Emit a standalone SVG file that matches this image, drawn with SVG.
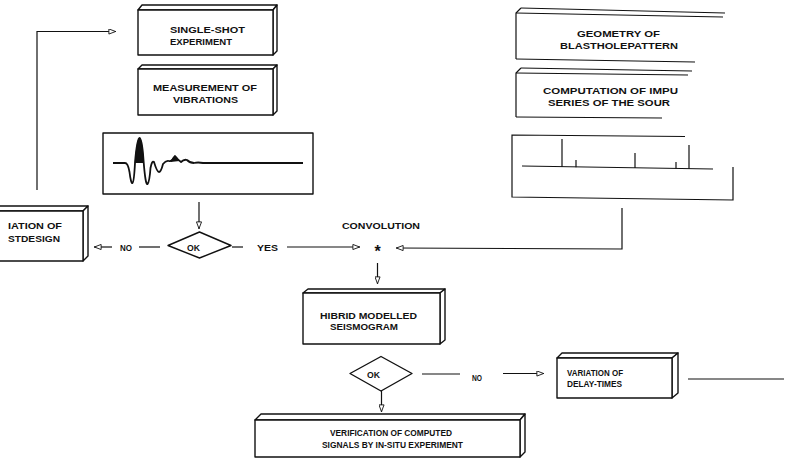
<svg xmlns="http://www.w3.org/2000/svg" width="792" height="471" viewBox="0 0 792 471">
  <style>
    .face { fill: #fff; stroke: #111; stroke-width: 1.4; stroke-linejoin: round; }
    .ln { fill: none; stroke: #111; stroke-width: 1.2; }
    .thin { fill: none; stroke: #111; stroke-width: 1.1; }
    .t { font-family: "Liberation Sans", Arial, Helvetica, sans-serif; font-weight: bold; font-size: 9.5px; fill: #111; }
    .star { font-family: "Liberation Sans", Arial, Helvetica, sans-serif; font-weight: bold; font-size: 16px; fill: #111; }
    .wave { fill: none; stroke: #111; stroke-width: 1.8; stroke-linejoin: round; }
  </style>
  <defs>
    <marker id="arr" viewBox="0 0 10 8" refX="10" refY="4" markerWidth="9" markerHeight="6" markerUnits="userSpaceOnUse" orient="auto">
      <path d="M0.5,0.6 L9.5,4 L0.5,7.4 Z" fill="#fff" stroke="#111" stroke-width="1.2"/>
    </marker>
  </defs>
  <rect width="792" height="471" fill="#fff"/>

  <!-- connectors -->
  <g id="connectors">
    <polyline class="ln" points="37,190 37,31.5 116,31.5" marker-end="url(#arr)"/>
    <line class="ln" x1="199" y1="202" x2="199" y2="229" marker-end="url(#arr)"/>
    <line class="ln" x1="160" y1="247" x2="139" y2="247"/>
    <line class="ln" x1="112" y1="247" x2="94" y2="247" marker-end="url(#arr)"/>
    <line class="ln" x1="232" y1="247" x2="243" y2="247"/>
    <line class="ln" x1="287" y1="247" x2="360" y2="247" marker-end="url(#arr)"/>
    <polyline class="ln" points="622,208 622,249 396,248" marker-end="url(#arr)"/>
    <line class="ln" x1="377.5" y1="263" x2="377.5" y2="284" marker-end="url(#arr)"/>
    <line class="ln" x1="381.5" y1="391" x2="381.5" y2="412" marker-end="url(#arr)"/>
    <line class="ln" x1="422" y1="374" x2="460" y2="374"/>
    <line class="ln" x1="503" y1="373.5" x2="544" y2="373.5" marker-end="url(#arr)"/>
    <line class="ln" x1="688" y1="379" x2="784" y2="379"/>
    <text class="t" x="120" y="250.5" textLength="12" lengthAdjust="spacingAndGlyphs">NO</text>
    <text class="t" x="257" y="250.5" textLength="21" lengthAdjust="spacingAndGlyphs">YES</text>
    <text class="t" x="342" y="229" textLength="78" lengthAdjust="spacingAndGlyphs">CONVOLUTION</text>
    <text class="star" x="377.5" y="257" text-anchor="middle">*</text>
    <text class="t" x="472" y="380.5" textLength="10" lengthAdjust="spacingAndGlyphs">NO</text>
  </g>

  <!-- single-shot experiment -->
  <g id="single-shot">
    <polygon class="face" points="138,10 142,5 277,5 273,10"/>
    <polygon class="face" points="273,10 277,5 277,51 273,55"/>
    <rect class="face" x="138" y="10" width="135" height="45"/>
    <text class="t" x="170" y="33" textLength="75" lengthAdjust="spacingAndGlyphs">SINGLE-SHOT</text>
    <text class="t" x="170" y="45" textLength="62" lengthAdjust="spacingAndGlyphs">EXPERIMENT</text>
  </g>

  <!-- measurement of vibrations -->
  <g id="measurement">
    <polygon class="face" points="138,69 142,65 277,65 273,69"/>
    <polygon class="face" points="273,69 277,65 277,111 273,115"/>
    <rect class="face" x="138" y="69" width="135" height="46"/>
    <text class="t" x="153" y="91" textLength="104" lengthAdjust="spacingAndGlyphs">MEASUREMENT OF</text>
    <text class="t" x="173" y="103" textLength="65" lengthAdjust="spacingAndGlyphs">VIBRATIONS</text>
  </g>

  <!-- recorded vibration trace -->
  <g id="trace">
    <rect class="face" x="103" y="133" width="210" height="61"/>
    <path d="M134.6,163 Q136.6,138 139.5,138 Q142.4,138 144,163 Z" fill="#111"/>
    <path d="M170.5,162 Q174,151 179.5,161 Z" fill="#111"/>
    <path class="wave" d="M113,163 L125,163 Q128,163 129.5,172 Q131,184 132.5,183 Q134,182 135,163 Q137,138 139.5,138 Q142,138 143.5,160 Q145.5,186 147.5,184 Q149.5,182 150.5,168 Q152,160 154,162 Q157,172 159,172 Q161,172 163,164 Q166,160 169,161 Q172,162 175,156 Q178,160 181,162 Q184,159 187,160 Q190,163 194,163 Q198,162 203,163 L303,163"/>
  </g>

  <!-- decision after measurement -->
  <g id="decision-1">
    <polygon class="face" points="168,245.5 199.5,232 231,245.5 199.5,258"/>
    <text class="t" x="187" y="251" textLength="13" lengthAdjust="spacingAndGlyphs">OK</text>
  </g>

  <!-- variation of blastdesign -->
  <g id="blastdesign">
    <polygon class="face" points="-10,211 -5,206 88,206 83,211"/>
    <polygon class="face" points="83,211 88,206 88,256 83,261"/>
    <rect class="face" x="-10" y="211" width="93" height="50"/>
    <text class="t" x="8" y="229" textLength="54" lengthAdjust="spacingAndGlyphs">IATION OF</text>
    <text class="t" x="8" y="241.5" textLength="52" lengthAdjust="spacingAndGlyphs">STDESIGN</text>
  </g>

  <!-- geometry of blastholepattern -->
  <g id="geometry">
    <polyline class="ln" points="516,59 516,13 521,8"/>
    <line class="thin" x1="521" y1="8" x2="725" y2="13"/>
    <line class="thin" x1="516" y1="13" x2="723" y2="17"/>
    <line class="ln" x1="516" y1="59" x2="695" y2="62"/>
    <text class="t" x="577" y="37" textLength="83" lengthAdjust="spacingAndGlyphs">GEOMETRY OF</text>
    <text class="t" x="560" y="49" textLength="118" lengthAdjust="spacingAndGlyphs">BLASTHOLEPATTERN</text>
  </g>

  <!-- computation of impulse series -->
  <g id="computation">
    <polyline class="ln" points="516,117 516,73 521,68"/>
    <line class="thin" x1="521" y1="68" x2="692" y2="71"/>
    <line class="thin" x1="516" y1="73" x2="688" y2="75"/>
    <line class="ln" x1="516" y1="117" x2="662" y2="118"/>
    <text class="t" x="543" y="94" textLength="135" lengthAdjust="spacingAndGlyphs">COMPUTATION OF IMPU</text>
    <text class="t" x="548" y="105.5" textLength="122" lengthAdjust="spacingAndGlyphs">SERIES OF THE SOUR</text>
  </g>

  <!-- impulse series plot -->
  <g id="impulses">
    <polyline class="ln" points="685,136.5 512,135 512,197 733,200 733,167" stroke-width="1.4"/>
    <line class="ln" x1="522" y1="166" x2="713" y2="169" stroke-width="1.4"/>
    <line class="ln" x1="562" y1="167" x2="562" y2="139" stroke-width="1.5"/>
    <line class="ln" x1="576" y1="167.2" x2="576" y2="160" stroke-width="1.5"/>
    <line class="ln" x1="635" y1="168" x2="635" y2="153" stroke-width="1.5"/>
    <line class="ln" x1="676" y1="168.5" x2="676" y2="162" stroke-width="1.5"/>
    <line class="ln" x1="689" y1="168.7" x2="689" y2="145" stroke-width="1.5"/>
  </g>

  <!-- hybrid modelled seismogram -->
  <g id="hybrid">
    <polygon class="face" points="303,293 308,289 445,289 440,293"/>
    <polygon class="face" points="440,293 445,289 445,340 440,344"/>
    <rect class="face" x="303" y="293" width="137" height="51"/>
    <text class="t" x="320" y="318.5" textLength="97" lengthAdjust="spacingAndGlyphs">HIBRID MODELLED</text>
    <text class="t" x="330" y="330" textLength="68" lengthAdjust="spacingAndGlyphs">SEISMOGRAM</text>
  </g>

  <!-- decision after modelling -->
  <g id="decision-2">
    <polygon class="face" points="350,373.5 381,356.5 412,373.5 381,391"/>
    <text class="t" x="367" y="378" textLength="13" lengthAdjust="spacingAndGlyphs">OK</text>
  </g>

  <!-- variation of delay-times -->
  <g id="delay-times">
    <polygon class="face" points="557,358 562,353 678,353 672,358"/>
    <polygon class="face" points="672,358 678,353 678,393 672,398"/>
    <rect class="face" x="557" y="358" width="115" height="40"/>
    <text class="t" x="567" y="376" textLength="56" lengthAdjust="spacingAndGlyphs">VARIATION OF</text>
    <text class="t" x="567" y="386.5" textLength="55" lengthAdjust="spacingAndGlyphs">DELAY-TIMES</text>
  </g>

  <!-- verification by in-situ experiment -->
  <g id="verification">
    <polygon class="face" points="255,420 261,414 525,414 520,420"/>
    <polygon class="face" points="520,420 525,414 525,452 520,457"/>
    <rect class="face" x="255" y="420" width="265" height="37"/>
    <text class="t" x="330" y="436" textLength="122" lengthAdjust="spacingAndGlyphs">VERIFICATION OF COMPUTED</text>
    <text class="t" x="322" y="447.5" textLength="141" lengthAdjust="spacingAndGlyphs">SIGNALS BY IN-SITU EXPERIMENT</text>
  </g>
</svg>
